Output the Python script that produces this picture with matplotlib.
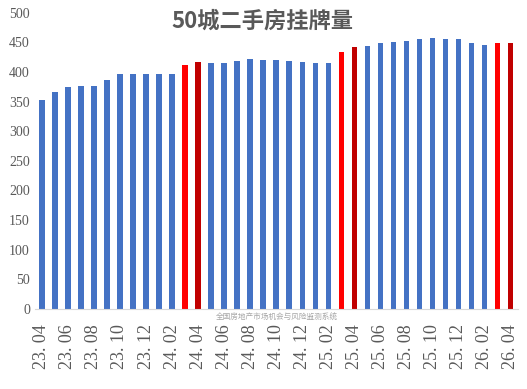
import matplotlib
matplotlib.use("Agg")
import matplotlib.pyplot as plt

plt.rcParams['font.family'] = ['Noto Sans CJK SC', 'DejaVu Sans']

# months 23.04 .. 26.04
months = ['23.04', '23.05', '23.06', '23.07', '23.08', '23.09', '23.10', '23.11',
          '23.12', '24.01', '24.02', '24.03', '24.04', '24.05', '24.06', '24.07',
          '24.08', '24.09', '24.10', '24.11', '24.12', '25.01', '25.02', '25.03',
          '25.04', '25.05', '25.06', '25.07', '25.08', '25.09', '25.10', '25.11',
          '25.12', '26.01', '26.02', '26.03', '26.04']
listings = [352, 367, 375, 377, 377, 387, 397, 397, 397, 397, 397, 412, 417,
            416, 416, 419, 422, 421, 420, 419, 417, 416, 416, 434, 443,
            444, 449, 451, 453, 456, 458, 456, 456, 449, 446, 449, 449]

colors = []
for m in months:
    if m.endswith('.03'):
        colors.append('#FF0000')
    elif m.endswith('.04') and m != '23.04':
        colors.append('#C00000')
    else:
        colors.append('#4472C4')

fig = plt.figure(figsize=(5.27, 3.89), dpi=100)
ax = fig.add_axes([0.066, 0.206, 0.917, 0.761])

x = list(range(len(months)))
ax.bar(x, listings, width=0.4, color=colors)

ax.set_ylim(0, 500)
ax.set_yticks(range(0, 501, 50))
ax.set_xlim(-0.55, 36.6)
ax.set_xticks(x[::2])
ax.set_xticklabels([m.replace('.', '. ') for m in months[::2]], rotation=90,
                   family=['Liberation Serif', 'DejaVu Serif'], fontsize=13,
                   color='#595959')
for lab in ax.get_yticklabels():
    lab.set_family(['Liberation Serif', 'DejaVu Serif'])
    lab.set_fontsize(10)
    lab.set_color('#595959')

ax.tick_params(axis='both', length=0)
ax.tick_params(axis='x', pad=11)
for s in ['top', 'right', 'left']:
    ax.spines[s].set_visible(False)
ax.spines['bottom'].set_color('#D9D9D9')

fig.text(0.497, 0.945, '50城二手房挂牌量', ha='center', va='center',
         fontsize=16, fontweight='bold', color='#595959')
fig.text(0.525, 0.183, '全国房地产市场机会与风险监测系统', ha='center', va='center',
         fontsize=5.5, color='#A6A6A6')

fig.savefig('out.png', dpi=100)
